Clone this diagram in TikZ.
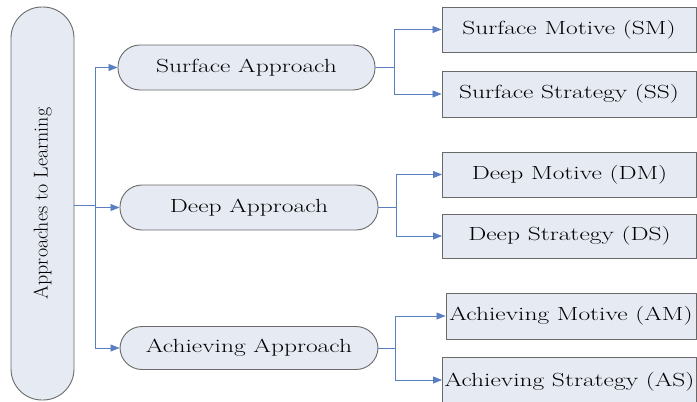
\documentclass[tikz,border=0pt]{standalone}
\usepackage{graphicx}
\usetikzlibrary{arrows.meta}
\definecolor{boxfill}{HTML}{E6EAF3}
\definecolor{boxdraw}{HTML}{6A6A6A}
\definecolor{linkc}{HTML}{5A7EC2}
\newcommand{\wtxt}[1]{\scalebox{1.34}[1]{\fontsize{19}{22}\selectfont #1}}
\tikzset{
  base/.style={draw=boxdraw, fill=boxfill, line width=0.9pt, inner sep=0pt, anchor=center},
  pill/.style={base, rounded corners=22pt, minimum height=45pt},
  sqbox/.style={base, minimum width=254pt, minimum height=45pt},
  link/.style={draw=linkc, line width=0.8pt},
  arr/.style={link, -{Triangle[length=9pt,width=7pt]}},
}
\begin{document}
\begin{tikzpicture}[x=1pt,y=-1pt]
\useasboundingbox (0,0) rectangle (697,402);
\fill[white] (0,0) rectangle (697,402);
% left tall node
\node[base, rounded corners=31pt, minimum width=63pt, minimum height=393pt] (L) at (42.5,203.5) {};
\node[rotate=90, inner sep=0pt] (Ltext) at (L.center) {\fontsize{20}{23}\selectfont Approaches to Learning};
% middle nodes
\node[pill, minimum width=257pt] (SA) at (246.5,67.5) {\wtxt{Surface Approach}};
\node[pill, minimum width=258pt] (DA) at (249,207.5) {\wtxt{Deep Approach}};
\node[pill, minimum width=258pt, minimum height=43pt] (AA) at (249,348) {\wtxt{Achieving Approach}};
% right boxes
\node[sqbox] (SM) at (569,29.5) {\wtxt{Surface Motive (SM)}};
\node[sqbox, minimum height=46pt] (SS) at (569,94) {\wtxt{Surface Strategy (SS)}};
\node[sqbox] (DM) at (569.5,174.5) {\wtxt{Deep Motive (DM)}};
\node[sqbox, minimum height=44pt] (DS) at (569.5,236) {\wtxt{Deep Strategy (DS)}};
\node[sqbox, minimum width=250pt, minimum height=46pt] (AM) at (571,316) {\wtxt{Achieving Motive (AM)}};
\node[sqbox, minimum height=50pt] (AS) at (569.5,382) {\wtxt{Achieving Strategy (AS)}};
% trunk
\coordinate (T0) at (95,205);
\coordinate (T1) at (95,67.5);
\coordinate (T2) at (95,207.5);
\coordinate (T3) at (95,348);
\draw[link] (L.east |- T0) -- (T0);
\draw[link] (T1) -- (T3);
\draw[arr] (T1) -- (SA.west);
\draw[arr] (T2) -- (DA.west);
\draw[arr] (T3) -- (AA.west);
% surface branch
\coordinate (S0) at (394,67.5);
\draw[link] (SA.east) -- (S0);
\draw[link] (394,29.5) -- (394,94);
\draw[arr] (394,29.5) -- (SM.west);
\draw[arr] (394,94) -- (SS.west);
% deep branch
\coordinate (D0) at (396,207.5);
\draw[link] (DA.east) -- (D0);
\draw[link] (396,174.5) -- (396,236);
\draw[arr] (396,174.5) -- (DM.west);
\draw[arr] (396,236) -- (DS.west);
% achieving branch
\coordinate (A0) at (395,348);
\draw[link] (AA.east) -- (A0);
\draw[link] (395,316) -- (395,380);
\draw[arr] (395,316) -- (AM.west);
\draw[arr] (395,380) -- (AS.west |- 0,380);
\end{tikzpicture}
\end{document}
